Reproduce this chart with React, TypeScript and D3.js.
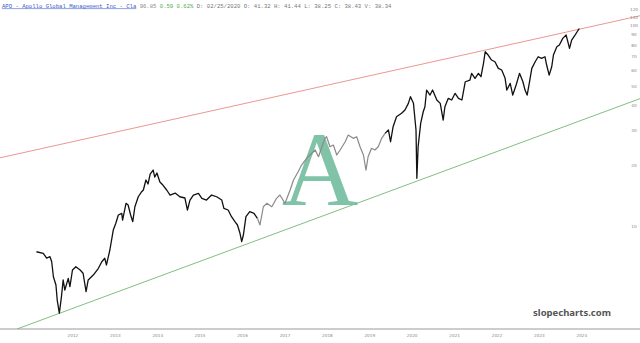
import React from "react";
import * as d3 from "d3";

// ---- data (decimal year, price) ----
const years: number[] = [
  2011.14, 2011.30, 2011.38, 2011.46, 2011.50, 2011.54, 2011.60, 2011.63, 2011.68, 2011.73,
  2011.77, 2011.81, 2011.89, 2011.93, 2011.99, 2012.07, 2012.17, 2012.24, 2012.31, 2012.36,
  2012.48, 2012.60, 2012.68, 2012.75, 2012.79, 2012.87, 2012.95, 2013.01, 2013.07, 2013.15,
  2013.17, 2013.25, 2013.30, 2013.36, 2013.41, 2013.46, 2013.54, 2013.62, 2013.66, 2013.72,
  2013.77, 2013.82, 2013.89, 2013.93, 2013.98, 2014.05, 2014.12, 2014.21, 2014.29, 2014.41,
  2014.52, 2014.64, 2014.70, 2014.76, 2014.84, 2014.96, 2015.04, 2015.15, 2015.27, 2015.39,
  2015.51, 2015.56, 2015.66, 2015.74, 2015.82, 2015.88, 2015.94, 2015.98, 2016.02, 2016.08,
  2016.17, 2016.27, 2016.35, 2016.41, 2016.49, 2016.57, 2016.69, 2016.80, 2016.88, 2017.00,
  2017.12, 2017.20, 2017.31, 2017.39, 2017.51, 2017.59, 2017.71, 2017.79, 2017.87, 2017.94,
  2017.98, 2018.06, 2018.14, 2018.22, 2018.30, 2018.42, 2018.49, 2018.61, 2018.69, 2018.77,
  2018.85, 2018.91, 2018.96, 2019.04, 2019.12, 2019.20, 2019.28, 2019.36, 2019.44, 2019.49,
  2019.55, 2019.63, 2019.75, 2019.83, 2019.91, 2019.96, 2020.03, 2020.09, 2020.11, 2020.14,
  2020.20, 2020.26, 2020.30, 2020.34, 2020.42, 2020.48, 2020.58, 2020.66, 2020.73, 2020.77,
  2020.85, 2020.93, 2021.01, 2021.09, 2021.17, 2021.25, 2021.36, 2021.40, 2021.48, 2021.56,
  2021.62, 2021.68, 2021.72, 2021.79, 2021.87, 2021.95, 2022.03, 2022.11, 2022.19, 2022.23,
  2022.31, 2022.37, 2022.45, 2022.53, 2022.61, 2022.66, 2022.71, 2022.76, 2022.82, 2022.90,
  2022.97, 2023.05, 2023.13, 2023.17, 2023.23, 2023.29, 2023.33, 2023.41, 2023.47, 2023.55,
  2023.63, 2023.71, 2023.76, 2023.84, 2023.89, 2023.94,
];
const prices: number[] = [
  7.44, 7.31, 6.92, 7.03, 6.63, 5.58, 5.08, 4.27, 3.67, 4.44,
  5.38, 4.79, 5.48, 4.98, 6.03, 6.26, 6.03, 5.81, 4.70, 5.38,
  5.69, 6.15, 6.63, 6.90, 6.39, 7.59, 9.55, 10.32, 11.35, 11.57,
  10.71, 12.98, 12.73, 11.35, 10.51, 12.48, 14.00, 14.83, 15.13, 16.97,
  16.21, 18.18, 19.03, 17.56, 18.39, 16.58, 16.02, 15.13, 14.28, 14.61,
  14.00, 13.80, 12.02, 13.48, 14.28, 14.56, 13.75, 13.48, 14.28, 14.00,
  13.48, 12.26, 12.02, 11.13, 10.51, 10.12, 9.20, 8.35, 9.02, 11.13,
  11.79, 11.57, 10.93, 10.12, 12.48, 12.98, 12.48, 13.75, 14.28, 12.98,
  15.13, 16.97, 18.67, 20.16, 21.78, 22.62, 23.96, 22.18, 24.88, 27.40,
  27.91, 24.88, 25.37, 22.62, 23.96, 26.35, 28.46, 27.40, 27.91, 24.88,
  22.62, 19.03, 22.18, 24.43, 23.96, 24.88, 27.40, 29.02, 30.15, 26.35,
  31.31, 35.12, 36.53, 37.94, 40.97, 44.20, 40.97, 30.15, 17.30, 24.88,
  32.56, 37.20, 39.41, 47.74, 45.07, 47.74, 42.56, 40.97, 33.82, 39.41,
  43.40, 42.56, 45.97, 43.40, 42.56, 52.52, 53.56, 57.84, 54.61, 57.84,
  55.63, 64.89, 74.15, 71.39, 67.40, 66.10, 61.27, 60.08, 54.61, 47.74,
  51.56, 45.07, 50.57, 57.84, 52.52, 47.74, 45.07, 51.56, 61.27, 66.10,
  70.01, 68.73, 70.01, 63.64, 56.72, 62.40, 71.39, 78.53, 80.08, 86.49,
  89.84, 77.10, 84.81, 89.84, 93.31, 96.85,
];
const grayFrom = 2016.35;
const grayTo = 2019.36;

const redLineYears: number[] = [2010.28, 2025.37];
const redLinePrices: number[] = [21.9, 112.15];
const greenLineYears: number[] = [2010.68, 2025.37];
const greenLinePrices: number[] = [3.06, 43.25];

const xTickYears: number[] = [2012, 2013, 2014, 2015, 2016, 2017, 2018, 2019, 2020, 2021, 2022, 2023, 2024];
const yTickValues: number[] = [120, 110, 100, 90, 80, 70, 60, 50, 40, 30, 20, 10];

const headerParts = [
  { text: "APO - Apollo Global Management Inc - Cla", color: "#3a5ccc", link: true },
  { text: " 96.85", color: "#888", link: false },
  { text: " 0.59", color: "#4caf50", link: false },
  { text: " 0.62%", color: "#4caf50", link: false },
  { text: " D: 02/25/2020 O: 41.32 H: 41.44 L: 38.25 C: 38.43 V: 38.34", color: "#777", link: false },
];

function decYear(y: number): Date {
  const yr = Math.floor(y);
  const s = new Date(yr, 0, 1).getTime();
  const e = new Date(yr + 1, 0, 1).getTime();
  return new Date(s + (y - yr) * (e - s));
}

const W = 640;
const H = 343;
const plotBottom = 329;

export default function App() {
  const x = d3.scaleTime().domain([decYear(2010.28), decYear(2025.37)]).range([0, W]);
  const y = d3.scaleLog().domain([3.061, 134.4]).range([plotBottom, 0]);

  const pts = years.map((yr, i) => ({ t: yr, d: decYear(yr), p: prices[i] }));
  const line = d3
    .line<{ d: Date; p: number }>()
    .x((d) => x(d.d))
    .y((d) => y(d.p));

  const before = pts.filter((d) => d.t <= grayFrom);
  const mid = pts.filter((d) => d.t >= grayFrom && d.t <= grayTo);
  const after = pts.filter((d) => d.t >= grayTo);

  const red = redLineYears.map((yr, i) => ({ d: decYear(yr), p: redLinePrices[i] }));
  const green = greenLineYears.map((yr, i) => ({ d: decYear(yr), p: greenLinePrices[i] }));

  return (
    <svg
      width={W}
      height={H}
      style={{ position: "absolute", left: 0, top: 0, background: "#fff" }}
    >
      <defs>
        <clipPath id="plot">
          <rect x={0} y={0} width={W} height={plotBottom} />
        </clipPath>
      </defs>
      <rect x={0} y={0} width={W} height={H} fill="#fff" />

      <text
        x={2}
        y={7.5}
        fontFamily="'Liberation Mono', monospace"
        fontSize={5.6}
        xmlSpace="preserve"
      >
        {headerParts.map((h, i) => (
          <tspan key={i} fill={h.color} textDecoration={h.link ? "underline" : undefined}>
            {h.text}
          </tspan>
        ))}
      </text>

      <g clipPath="url(#plot)">
        <path d={line(red) || ""} stroke="#e36a62" strokeWidth={0.7} fill="none" />
        <path d={line(green) || ""} stroke="#4f9f4f" strokeWidth={0.7} fill="none" />
      </g>

      <text
        x={320}
        y={205}
        textAnchor="middle"
        fontFamily="'Liberation Serif', serif"
        fontSize={106}
        fill="#72bca0"
        fillOpacity={0.9}
      >
        A
      </text>

      <g clipPath="url(#plot)" fill="none" strokeLinejoin="round">
        <path d={line(before) || ""} stroke="#111" strokeWidth={1.3} />
        <path d={line(mid) || ""} stroke="#8a8a8a" strokeWidth={1.2} />
        <path d={line(after) || ""} stroke="#111" strokeWidth={1.3} />
      </g>

      <line x1={0} x2={W} y1={plotBottom} y2={plotBottom} stroke="#9a9a9a" strokeWidth={1} />

      {xTickYears.map((yr) => (
        <text
          key={yr}
          x={x(decYear(yr))}
          y={337}
          textAnchor="middle"
          fontFamily="'DejaVu Sans', sans-serif"
          fontSize={4.2}
          fill="#888"
        >
          {yr}
        </text>
      ))}

      {yTickValues.map((v) => (
        <text
          key={v}
          x={634}
          y={y(v) + 1.5}
          textAnchor="middle"
          fontFamily="'DejaVu Sans', sans-serif"
          fontSize={4.2}
          fill="#888"
        >
          {v}
        </text>
      ))}

      <text
        x={572}
        y={316}
        textAnchor="middle"
        fontFamily="'Noto Sans', sans-serif"
        fontWeight="bold"
        fontSize={9.5}
        fill="#555"
      >
        slopecharts.com
      </text>
    </svg>
  );
}
